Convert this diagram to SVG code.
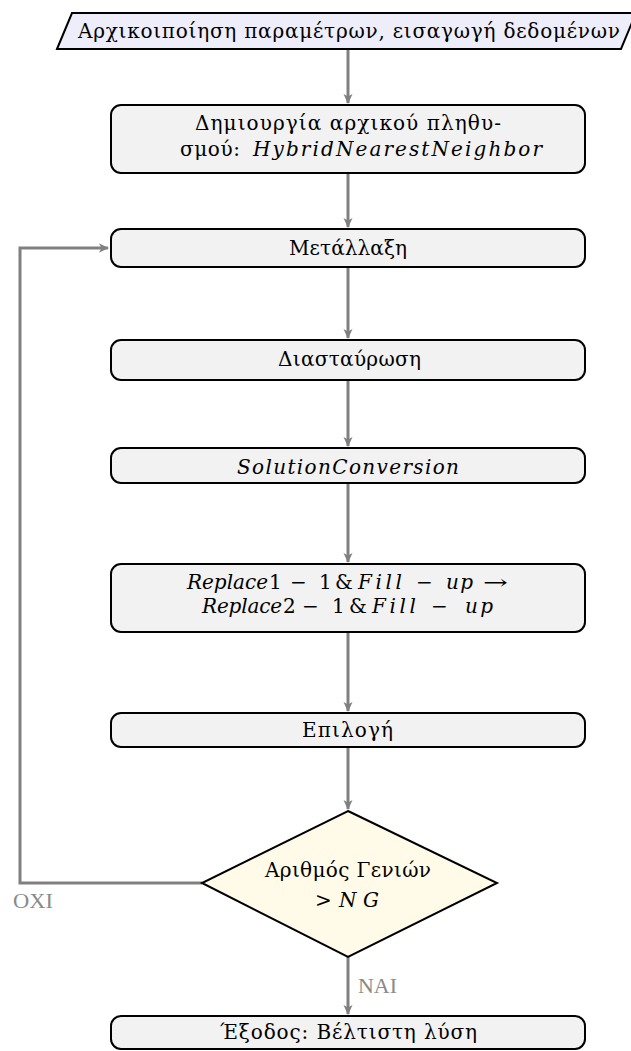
<svg xmlns="http://www.w3.org/2000/svg" width="631" height="1051" viewBox="0 0 631 1051">
<style>
.box{fill:#f2f2f2;stroke:#000;stroke-width:2}
.t{font-family:"DejaVu Serif","Liberation Serif",serif;font-size:20px;fill:#000}
.m{font-family:"DejaVu Serif","Liberation Serif",serif;font-style:italic;font-size:20px;fill:#000}
.u{font-family:"DejaVu Serif","Liberation Serif",serif;font-size:20px;fill:#000}
.c{fill:none;stroke:#808080;stroke-width:3}
.lbl{font-family:"Liberation Serif",serif;font-size:22px;fill:#8a8a8a}
</style>
<defs>
<marker id="ah" markerWidth="12" markerHeight="12" refX="9" refY="6" orient="auto" markerUnits="userSpaceOnUse" viewBox="0 0 12 12">
<path d="M0,1.5 L10,6 L0,10.5 L2.5,6 Z" fill="#808080"/>
</marker>
</defs>
<g id="connectors">
<line class="c" x1="348" y1="50" x2="348" y2="103" marker-end="url(#ah)"/>
<line class="c" x1="348" y1="174" x2="348" y2="227" marker-end="url(#ah)"/>
<line class="c" x1="348" y1="268" x2="348" y2="338" marker-end="url(#ah)"/>
<line class="c" x1="348" y1="381" x2="348" y2="446" marker-end="url(#ah)"/>
<line class="c" x1="348" y1="484" x2="348" y2="562" marker-end="url(#ah)"/>
<line class="c" x1="348" y1="633" x2="348" y2="711" marker-end="url(#ah)"/>
<line class="c" x1="348" y1="748" x2="348" y2="809" marker-end="url(#ah)"/>
<polyline class="c" points="202,883 20,883 20,248 108,248" marker-end="url(#ah)"/>
<line class="c" x1="348" y1="957" x2="348" y2="1014" marker-end="url(#ah)"/>
<text class="lbl" x="13" y="908" textLength="40" lengthAdjust="spacingAndGlyphs">OXI</text>
<text class="lbl" x="358" y="993" textLength="39" lengthAdjust="spacingAndGlyphs">NAI</text>
</g>
<g id="start">
<polygon points="57,49 72,13 636,13 621,49" fill="#eeeefa" stroke="#000" stroke-width="2"/>
<text class="t" x="78" y="38" textLength="542">Αρχικοιποίηση παραμέτρων, εισαγωγή δεδομένων</text>
</g>
<g id="init">
<rect class="box" x="111" y="105" width="474" height="68" rx="10"/>
<text class="t" x="195" y="130" textLength="306">Δημιουργία αρχικού πληθυ-</text>
<text class="t" x="180" y="156" textLength="60">σμού:</text>
<text class="m" x="253" y="156" textLength="289">HybridNearestNeighbor</text>
</g>
<g id="mutation">
<rect class="box" x="111" y="229" width="474" height="38" rx="10"/>
<text class="t" x="289" y="255" textLength="118">Μετάλλαξη</text>
</g>
<g id="crossover">
<rect class="box" x="111" y="340" width="474" height="40" rx="10"/>
<text class="t" x="278" y="366" textLength="143">Διασταύρωση</text>
</g>
<g id="conversion">
<rect class="box" x="111" y="448" width="474" height="35" rx="10"/>
<text class="m" x="237" y="474" textLength="222">SolutionConversion</text>
</g>
<g id="replace">
<rect class="box" x="111" y="564" width="474" height="68" rx="10"/>
<text class="m" x="187" y="589" textLength="81">Replace</text>
<text class="u" x="269" y="589">1</text>
<text class="u" x="290" y="589">−</text>
<text class="u" x="319" y="589">1</text>
<text class="u" x="335" y="589">&amp;</text>
<text class="m" x="358" y="589" textLength="44">Fill</text>
<text class="u" x="416" y="589">−</text>
<text class="m" x="446" y="589" textLength="27">up</text>
<text class="u" x="483" y="589" textLength="25" lengthAdjust="spacingAndGlyphs">→</text>
<text class="m" x="202" y="613" textLength="80">Replace</text>
<text class="u" x="283" y="613">2</text>
<text class="u" x="302" y="613">−</text>
<text class="u" x="332" y="613">1</text>
<text class="u" x="349" y="613">&amp;</text>
<text class="m" x="372" y="613" textLength="44">Fill</text>
<text class="u" x="431" y="613">−</text>
<text class="m" x="465" y="613" textLength="28">up</text>
</g>
<g id="selection">
<rect class="box" x="111" y="713" width="474" height="34" rx="10"/>
<text class="t" x="302" y="737" textLength="91">Επιλογή</text>
</g>
<g id="decision">
<polygon points="348,811 497,883 348,957 202,883" fill="#fffbe8" stroke="#000" stroke-width="2"/>
<text class="t" x="265" y="877" textLength="166">Αριθμός Γενιών</text>
<text class="u" x="315" y="907">&gt;</text>
<text class="m" x="339" y="907" textLength="40">NG</text>
</g>
<g id="output">
<rect class="box" x="111" y="1016" width="474" height="33" rx="10"/>
<text class="t" x="220" y="1039" textLength="257">Έξοδος: Βέλτιστη λύση</text>
</g>
</svg>
